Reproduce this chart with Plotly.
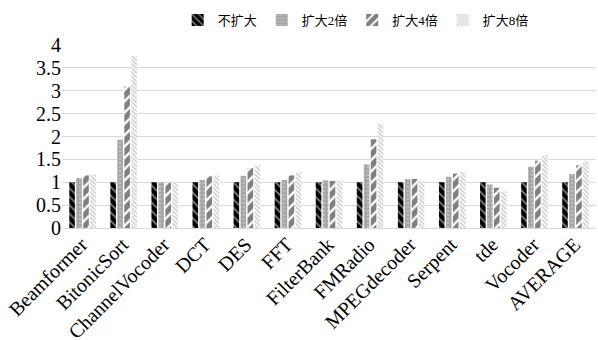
import plotly.graph_objects as go

categories = ["Beamformer", "BitonicSort", "ChannelVocoder", "DCT", "DES", "FFT",
              "FilterBank", "FMRadio", "MPEGdecoder", "Serpent", "tde", "Vocoder", "AVERAGE"]
series_names = ["不扩大", "扩大2倍", "扩大4倍", "扩大8倍"]
no_expand = [1, 1, 1, 1, 1, 1, 1, 1, 1, 1, 1, 1, 1]
expand_2x = [1.09, 1.93, 1.0, 1.05, 1.14, 1.05, 1.04, 1.39, 1.07, 1.12, 0.95, 1.34, 1.18]
expand_4x = [1.15, 3.09, 0.99, 1.13, 1.31, 1.15, 1.03, 1.94, 1.07, 1.19, 0.88, 1.47, 1.37]
expand_8x = [1.17, 3.76, 1.0, 1.15, 1.37, 1.22, 1.04, 2.28, 1.02, 1.22, 0.80, 1.59, 1.47]
y_ticks = [0, 0.5, 1, 1.5, 2, 2.5, 3, 3.5, 4]

styles = [
    dict(color="black", pattern=dict(shape="\\", fgcolor="white", bgcolor="black", size=6, solidity=0.3)),
    dict(color="#a6a6a6", pattern=dict(shape=".", fgcolor="#e6e6e6", bgcolor="#a6a6a6", size=4, solidity=0.2)),
    dict(color="white", pattern=dict(shape="/", fgcolor="black", bgcolor="white", size=8, solidity=0.7)),
    dict(color="white", pattern=dict(shape="\\", fgcolor="#9a9a9a", bgcolor="white", size=3, solidity=0.5)),
]

fig = go.Figure()
for name, vals, st in zip(series_names, [no_expand, expand_2x, expand_4x, expand_8x], styles):
    fig.add_trace(go.Bar(
        x=categories, y=vals, name=name,
        marker=dict(color=st["color"], pattern=st["pattern"], line=dict(width=0)),
    ))

font_family = "Liberation Serif, Noto Sans CJK SC, serif"
fig.update_layout(
    width=598, height=340,
    margin=dict(l=62, r=2, t=45, b=112),
    paper_bgcolor="white", plot_bgcolor="white",
    barmode="group", bargap=0.32, bargroupgap=0.2,
    font=dict(family=font_family, color="black"),
    legend=dict(orientation="h", x=0.55, xanchor="center", y=0.985, yanchor="top",
                yref="container", font=dict(size=13, family=font_family),
                itemwidth=30, traceorder="normal"),
    showlegend=True,
)
fig.update_xaxes(tickangle=-45, tickfont=dict(size=20, family=font_family),
                 ticklabelstandoff=-4, ticklabelshift=-1,
                 showline=True, linecolor="#d9d9d9", linewidth=1,
                 ticks="", automargin=False)
fig.update_yaxes(range=[0, 4], tickvals=y_ticks, ticktext=[str(v) for v in y_ticks],
                 tickfont=dict(size=20, family=font_family),
                 showgrid=True, gridcolor="#d9d9d9", gridwidth=1,
                 zeroline=False, showline=False, ticks="", automargin=False)

fig.write_html("out.html")
